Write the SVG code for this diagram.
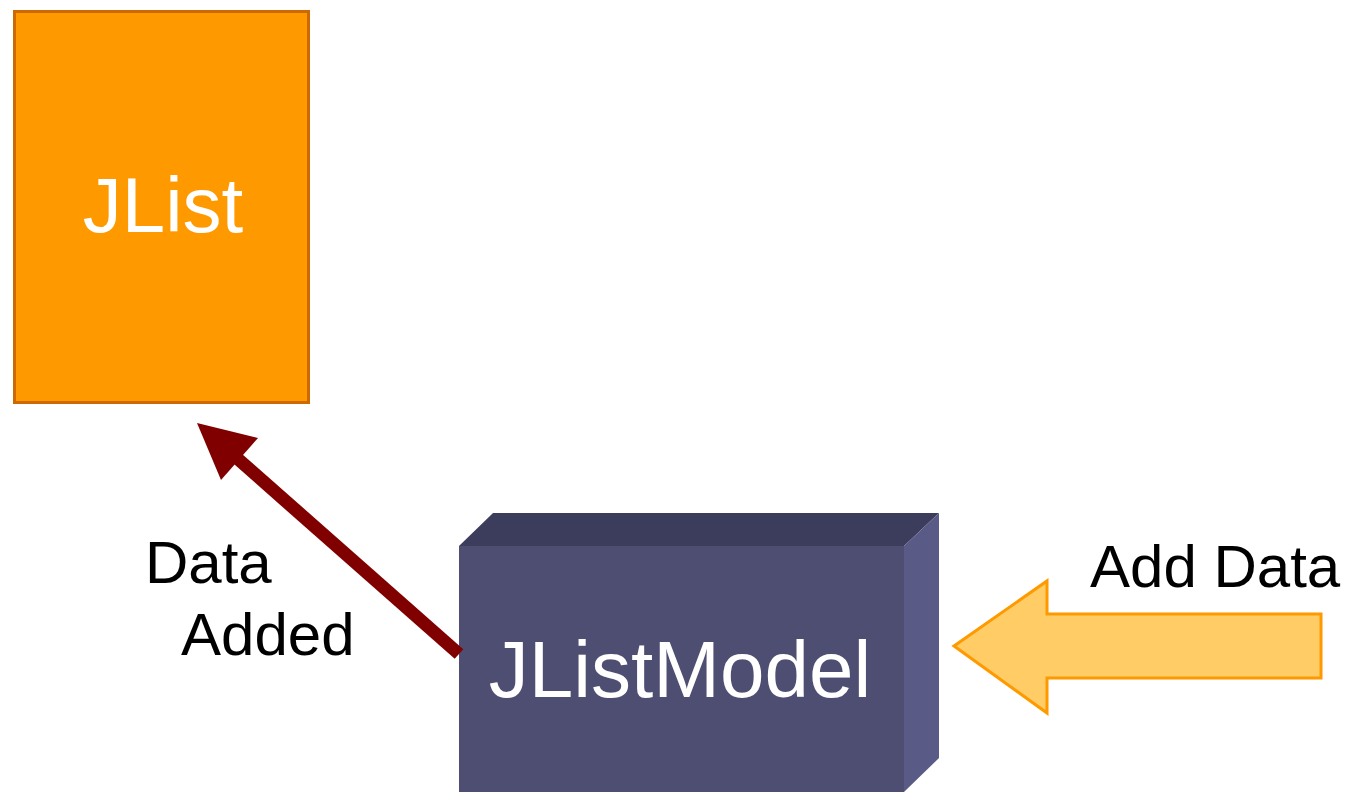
<svg xmlns="http://www.w3.org/2000/svg" width="1348" height="792" viewBox="0 0 1348 792">
  <style>
    .lbl { font-family: "Liberation Sans", Arial, sans-serif; fill: #000000; font-size: 60px; }
    .title { font-family: "Liberation Sans", Arial, sans-serif; fill: #ffffff; text-anchor: middle; }
  </style>
  <rect width="1348" height="792" fill="#ffffff"/>

  <!-- View component -->
  <g id="jlist">
    <rect x="14.5" y="11.5" width="294" height="391" fill="#ff9900" stroke="#cc6a00" stroke-width="3"/>
    <text class="title" x="163" y="232" font-size="78">JList</text>
  </g>

  <!-- Model component drawn as a 3D box -->
  <g id="jlistmodel">
    <polygon points="459,546 493,513 939,513 904,546" fill="#3c3c5c"/>
    <polygon points="904,546 939,513 939,758 904,792" fill="#5a5a87"/>
    <rect x="459" y="546" width="445" height="246" fill="#4e4e72"/>
    <text class="title" x="680" y="697" font-size="80">JListModel</text>
  </g>

  <g id="connectors">
    <!-- notification back to the list -->
    <line x1="459" y1="654" x2="230" y2="452" stroke="#800000" stroke-width="13"/>
    <polygon points="197,423 258,438 221,480" fill="#800000"/>
    <!-- incoming data block arrow -->
    <polygon points="954,646 1047,581 1047,614 1321,614 1321,678 1047,678 1047,713" fill="#ffcc66" stroke="#ff9900" stroke-width="3" stroke-linejoin="miter"/>
  </g>

  <g id="labels">
    <text class="lbl" x="145" y="583">Data</text>
    <text class="lbl" x="181" y="655">Added</text>
    <text class="lbl" x="1090" y="587">Add Data</text>
  </g>
</svg>
